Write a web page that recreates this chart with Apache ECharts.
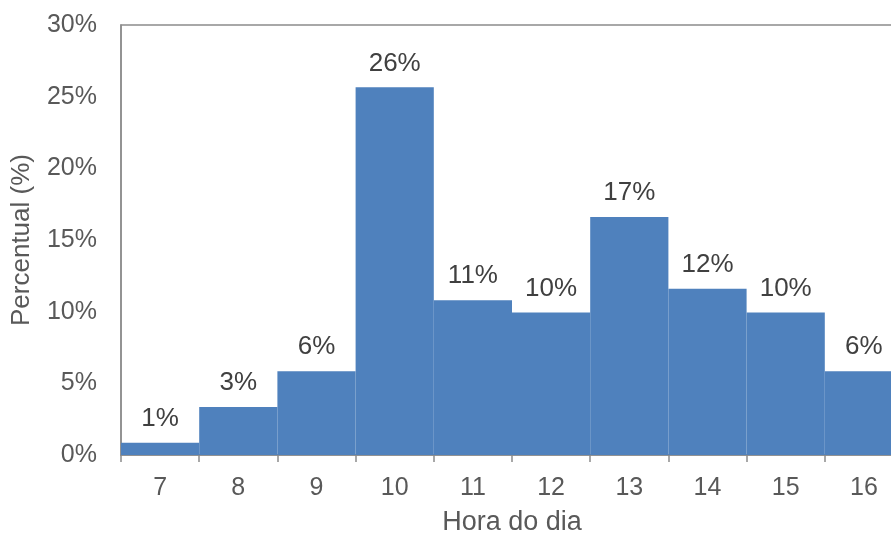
<!DOCTYPE html>
<html>
<head>
<meta charset="utf-8">
<script src="https://cdn.jsdelivr.net/npm/echarts@6/dist/echarts.min.js"></script>
<style>
  html, body { margin: 0; padding: 0; background: #fff; width: 891px; height: 533px; overflow: hidden; }
  /* the plot runs a little past the right edge of the page, so the canvas is wider than the view */
  #chart { width: 920px; height: 533px; }
</style>
</head>
<body>
<div id="chart"></div>
<script>
// Hour of day and share of records per hour (%)
const hours = ['7', '8', '9', '10', '11', '12', '13', '14', '15', '16'];
const shares = [0.86, 3.35, 5.85, 25.65, 10.8, 9.95, 16.6, 11.6, 9.95, 5.85];
const yTicks = { min: 0, max: 30, step: 5 };

const chart = echarts.init(document.getElementById('chart'), null, { renderer: 'canvas' });
const font = '"Liberation Sans", Arial, sans-serif';
const axisGrey = '#8c8c8c';

chart.setOption({
  animation: false,
  grid: {
    left: 121, top: 25, right: 17, bottom: 78,
    outerBoundsMode: 'none',
    containLabel: false,
    show: true, borderColor: axisGrey, borderWidth: 1.5, backgroundColor: 'transparent'
  },
  xAxis: {
    type: 'category',
    data: hours,
    boundaryGap: true,
    name: 'Hora do dia',
    nameLocation: 'middle',
    nameGap: 54,
    nameTextStyle: { color: '#595959', fontSize: 27, fontFamily: font },
    axisLine: { show: true, lineStyle: { color: axisGrey, width: 1.5 } },
    axisTick: { show: true, length: 7, lineStyle: { color: axisGrey, width: 1.5 } },
    axisLabel: { color: '#595959', fontSize: 25, fontFamily: font, margin: 21 },
    splitLine: { show: false }
  },
  yAxis: {
    type: 'value',
    min: yTicks.min, max: yTicks.max, interval: yTicks.step,
    name: 'Percentual (%)',
    nameLocation: 'middle',
    nameGap: 86,
    nameRotate: 90,
    nameTextStyle: { color: '#595959', fontSize: 26, fontFamily: font },
    axisLine: { show: true, lineStyle: { color: axisGrey, width: 1.5 } },
    axisTick: { show: false },
    axisLabel: { color: '#595959', fontSize: 25, fontFamily: font, margin: 24, formatter: '{value}%' },
    splitLine: { show: false }
  },
  series: [{
    type: 'bar',
    data: shares,
    barCategoryGap: '0%',
    itemStyle: { color: '#4f81bd' },
    label: {
      show: true,
      position: 'top',
      distance: 11,
      color: '#404040',
      fontSize: 26,
      fontFamily: font,
      formatter: p => Math.round(p.value) + '%'
    }
  }]
});
</script>
</body>
</html>
